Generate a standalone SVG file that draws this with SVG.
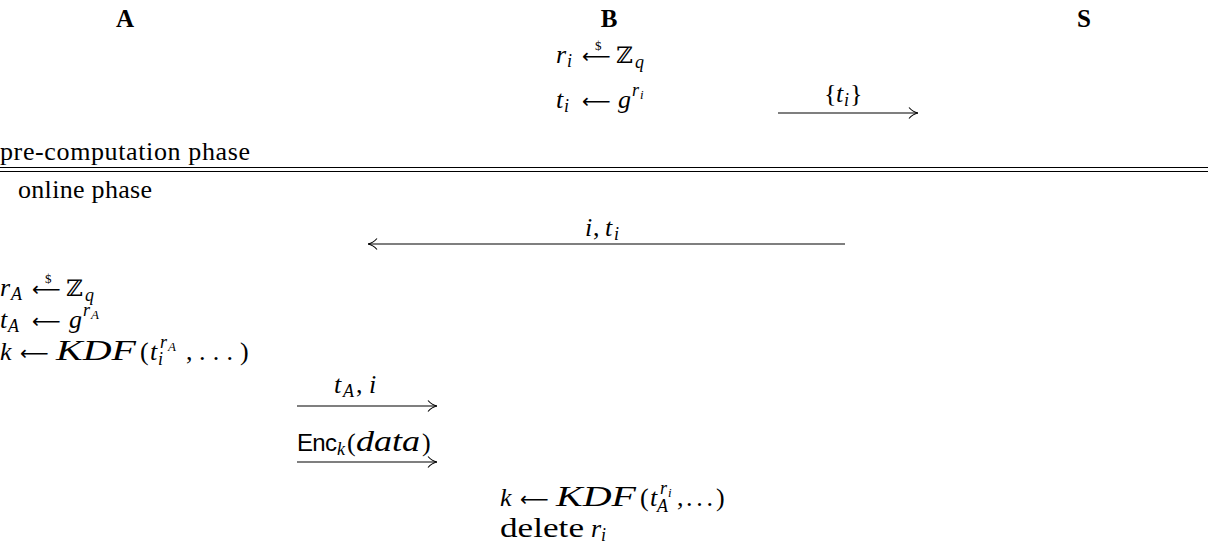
<svg xmlns="http://www.w3.org/2000/svg" width="1208" height="552" viewBox="0 0 1208 552">
<defs>
<style>
text{font-family:"Liberation Serif","DejaVu Serif",serif;font-size:26px;fill:#000}
.h{font-weight:bold;text-anchor:middle;font-size:25px}
.i{font-style:italic}
.s{font-size:18px}
.ss{font-size:13px}
.d{font-size:13px;font-style:normal}
.ar{font-family:"DejaVu Sans",sans-serif;font-size:20px}
.z{font-family:"DejaVu Serif","Liberation Serif",serif;font-size:23px}
.sf{font-family:"Liberation Sans",sans-serif;font-size:24px}
.w{font-size:29px}
.ln{stroke:#000;stroke-width:1.2;fill:none}
</style>
<marker id="ah" viewBox="0 0 10 12" refX="10" refY="6" markerWidth="10" markerHeight="12" markerUnits="userSpaceOnUse" orient="auto">
<path d="M1,0.5 Q5,5 10,6 Q5,7 1,11.5" fill="none" stroke="#000" stroke-width="1.1"/>
</marker>
</defs>
<rect width="1208" height="552" fill="#fff"/>
<g id="headers">
<text class="h" x="125" y="27">A</text>
<text class="h" x="609" y="27">B</text>
<text class="h" x="1084" y="27">S</text>
</g>
<g id="b-precomp">
<text y="63"><tspan class="i" x="556">r</tspan><tspan class="i s" x="567" y="67">i</tspan><tspan class="ar" x="582" y="63">⟵</tspan><tspan class="d" x="595" y="50">$</tspan><tspan class="z" x="616" y="63">ℤ</tspan><tspan class="i s" x="635" y="68">q</tspan></text>
<text y="108"><tspan class="i" x="556">t</tspan><tspan class="i s" x="564" y="112">i</tspan><tspan class="ar" x="582" y="108">⟵</tspan><tspan class="i" x="618" y="108">g</tspan><tspan class="i s" x="632" y="96">r</tspan><tspan class="i ss" x="640" y="99">i</tspan></text>
</g>
<g id="phases">
<text x="0" y="160" textLength="250" lengthAdjust="spacing">pre-computation phase</text>
<line x1="0" y1="167.5" x2="1208" y2="167.5" class="ln"/>
<line x1="0" y1="171.5" x2="1208" y2="171.5" class="ln"/>
<text x="18" y="198" textLength="134" lengthAdjust="spacing">online phase</text>
</g>
<g id="a-compute">
<text y="296"><tspan class="i" x="0">r</tspan><tspan class="i s" x="11" y="300">A</tspan><tspan class="ar" x="32" y="296">⟵</tspan><tspan class="d" x="45" y="283">$</tspan><tspan class="z" x="66" y="296">ℤ</tspan><tspan class="i s" x="85" y="301">q</tspan></text>
<text y="328"><tspan class="i" x="0">t</tspan><tspan class="i s" x="8" y="332">A</tspan><tspan class="ar" x="32" y="328">⟵</tspan><tspan class="i" x="69" y="328">g</tspan><tspan class="i s" x="83" y="316">r</tspan><tspan class="i ss" x="91" y="319">A</tspan></text>
<text y="360"><tspan class="i" x="0">k</tspan><tspan class="ar" x="20" y="360">⟵</tspan><tspan class="i w" x="56" y="360" textLength="80" lengthAdjust="spacingAndGlyphs">KDF</tspan><tspan x="140">(</tspan><tspan class="i" x="150">t</tspan><tspan class="i s" x="160" y="348">r</tspan><tspan class="i ss" x="168" y="351">A</tspan><tspan class="i s" x="158" y="365">i</tspan><tspan x="186" y="360">,</tspan><tspan x="199" textLength="34" lengthAdjust="spacing">. . .</tspan><tspan x="240">)</tspan></text>
</g>
<g id="b-compute">
<text y="506"><tspan class="i" x="500">k</tspan><tspan class="ar" x="520" y="506">⟵</tspan><tspan class="i w" x="556" y="506" textLength="80" lengthAdjust="spacingAndGlyphs">KDF</tspan><tspan x="640">(</tspan><tspan class="i" x="650">t</tspan><tspan class="i s" x="660" y="494">r</tspan><tspan class="i ss" x="668" y="497">i</tspan><tspan class="i s" x="657" y="512">A</tspan><tspan x="677" y="506">,</tspan><tspan x="686" textLength="27" lengthAdjust="spacing">. . .</tspan><tspan x="716">)</tspan></text>
<text y="537"><tspan x="500" style="font-size:28px" textLength="84" lengthAdjust="spacingAndGlyphs">delete</tspan><tspan class="i" x="591">r</tspan><tspan class="i s" x="601" y="541">i</tspan></text>
</g>
<g id="connectors">
<line x1="778" y1="113" x2="918" y2="113" class="ln" marker-end="url(#ah)"/>
<text y="102"><tspan x="824">{</tspan><tspan class="i" x="836">t</tspan><tspan class="i s" x="844" y="106">i</tspan><tspan x="850" y="102">}</tspan></text>
<line x1="845" y1="244" x2="368" y2="244" class="ln" marker-end="url(#ah)"/>
<text y="236"><tspan class="i" x="585">i</tspan><tspan x="593">,</tspan><tspan class="i" x="605">t</tspan><tspan class="i s" x="614" y="240">i</tspan></text>
<line x1="297" y1="406" x2="437" y2="406" class="ln" marker-end="url(#ah)"/>
<text y="393"><tspan class="i" x="334">t</tspan><tspan class="i s" x="343" y="397">A</tspan><tspan x="356" y="393">,</tspan><tspan class="i" x="369">i</tspan></text>
<line x1="297" y1="462" x2="437" y2="462" class="ln" marker-end="url(#ah)"/>
<text y="451"><tspan class="sf" x="297" textLength="40" lengthAdjust="spacing">Enc</tspan><tspan class="i s" x="337" y="455">k</tspan><tspan x="347" y="451">(</tspan><tspan class="i w" x="356" textLength="64" lengthAdjust="spacingAndGlyphs">data</tspan><tspan x="422">)</tspan></text>
</g>
</svg>
